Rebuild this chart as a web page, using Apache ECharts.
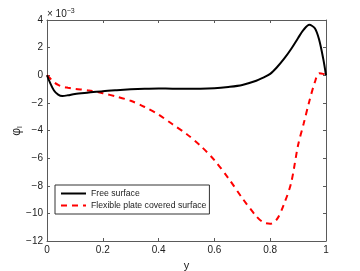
<!DOCTYPE html>
<html><head><meta charset="utf-8">
<script src="https://cdn.jsdelivr.net/npm/echarts@6/dist/echarts.min.js"></script>
<style>html,body{margin:0;padding:0;background:#fff}#c{width:360px;height:271px}</style>
</head><body><div id="c"></div>
<script>
var xs = [0, 0.01, 0.025, 0.04, 0.055, 0.075, 0.1, 0.15, 0.2, 0.25, 0.3, 0.35, 0.4, 0.45, 0.5, 0.55, 0.6, 0.65, 0.7, 0.75, 0.775, 0.8, 0.825, 0.85, 0.875, 0.9, 0.92, 0.94, 0.96, 0.975, 0.99, 1.0];
var freeSurface = [0, -0.5, -1.1, -1.4, -1.5, -1.45, -1.35, -1.25, -1.15, -1.08, -1.02, -0.98, -0.96, -0.97, -0.98, -0.98, -0.95, -0.85, -0.7, -0.4, -0.17, 0.1, 0.6, 1.2, 1.9, 2.7, 3.3, 3.65, 3.4, 2.6, 1.2, 0];
var plateSurface = [0, -0.2, -0.5, -0.7, -0.82, -0.9, -0.98, -1.1, -1.3, -1.55, -1.85, -2.3, -2.85, -3.55, -4.25, -5.1, -6.15, -7.45, -8.9, -10.2, -10.65, -10.75, -10.4, -9.3, -7.8, -5.05, -3.5, -1.9, -0.5, 0.15, 0.1, 0];
var seriesNames = ['Free surface', 'Flexible plate covered surface'];
var xTicks = [0, 0.2, 0.4, 0.6, 0.8, 1];
var yTicks = [-12, -10, -8, -6, -4, -2, 0, 2, 4];

function pairs(ys){ return xs.map(function(x,i){ return [x, ys[i]]; }); }
var font = 'Liberation Sans, Arial, sans-serif';
var axisCol = '#5a5a5a';
var chart = echarts.init(document.getElementById('c'), null, {renderer:'canvas'});
var fmtY = function(v){ return v < 0 ? '\u2212' + Math.abs(v) : String(v); };
var baseAxis = {
  axisLine:{show:true, onZero:false, lineStyle:{color:axisCol, width:1}},
  axisTick:{show:true, inside:true, length:3, lineStyle:{color:axisCol}},
  splitLine:{show:false}
};
chart.setOption({
  animation:false,
  grid:{left:47, right:34, top:20, bottom:30, containLabel:false, outerBoundsMode:'none'},
  xAxis:[
    Object.assign({}, baseAxis, {type:'value', min:xTicks[0], max:xTicks[xTicks.length-1], interval:0.2, position:'bottom',
      axisLabel:{color:'#222', fontSize:10, fontFamily:font, margin:4, formatter:function(v){return String(+v.toFixed(1));}},
      name:'y', nameLocation:'middle', nameGap:19, nameTextStyle:{color:'#222', fontSize:11, fontFamily:font}}),
    Object.assign({}, baseAxis, {type:'value', min:0, max:1, interval:0.2, position:'top', axisLabel:{show:false}})
  ],
  yAxis:[
    Object.assign({}, baseAxis, {type:'value', min:yTicks[0], max:yTicks[yTicks.length-1], interval:2, position:'left',
      axisLabel:{color:'#222', fontSize:10, fontFamily:font, margin:4, formatter:fmtY}}),
    Object.assign({}, baseAxis, {type:'value', min:-12, max:4, interval:2, position:'right', axisLabel:{show:false}})
  ],
  legend:{
    orient:'vertical', left:55, top:185, itemWidth:25, itemHeight:10, itemGap:3, itemStyle:{opacity:0},
    padding:[4,3,4,5], borderColor:'#333', borderWidth:1, backgroundColor:'#fff', borderRadius:0,
    textStyle:{color:'#222', fontSize:8.7, fontFamily:font},
    data:seriesNames
  },
  series:[
    {name:seriesNames[0], type:'line', data:pairs(freeSurface), smooth:0.3, showSymbol:false, symbol:'none',
      lineStyle:{color:'#000', width:2}, itemStyle:{color:'#000'}, z:3},
    {name:seriesNames[1], type:'line', data:pairs(plateSurface), smooth:0.3, showSymbol:false, symbol:'none',
      lineStyle:{color:'#ff0000', width:2, type:[6,5]}, itemStyle:{color:'#ff0000'}, z:2}
  ],
  graphic:[
    {type:'text', left:47, top:8, style:{text:'{a|\u00d7 10}{b|\u22123}', rich:{a:{fontSize:10, fontFamily:font, fill:'#222'}, b:{fontSize:7, fontFamily:font, fill:'#222', verticalAlign:'top', padding:[0,0,6,0]}}}},
    {type:'text', x:17, y:131, rotation:Math.PI/2, style:{text:'{a|\u03c6}{b|l}', rich:{a:{fontSize:12, fontFamily:font, fill:'#222'}, b:{fontSize:8, fontFamily:font, fill:'#222', padding:[6,0,0,0]}}, align:'center', verticalAlign:'middle'}}
  ]
});
</script></body></html>
